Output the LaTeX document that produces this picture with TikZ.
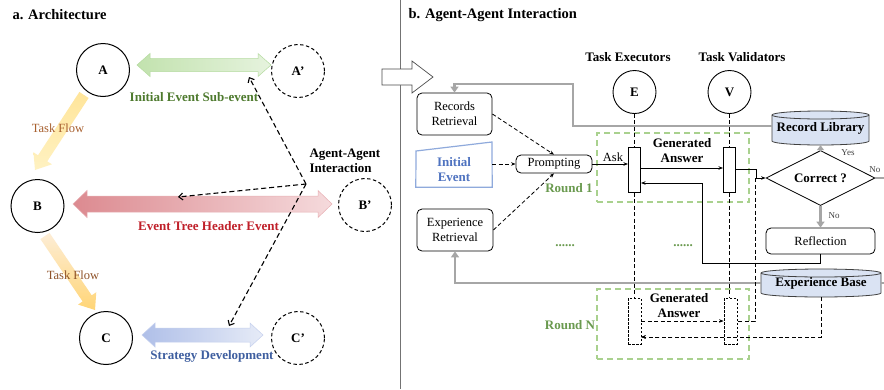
\documentclass[tikz,border=0pt]{standalone}
\usepackage{fontspec}
\setmainfont{Liberation Serif}
\usetikzlibrary{calc,arrows.meta,shapes.geometric}
\definecolor{gtxt}{HTML}{4E7A2E}
\definecolor{rtxt}{HTML}{C0202A}
\definecolor{btxt}{HTML}{3F5FA0}
\definecolor{tftxt}{HTML}{A8602F}
\definecolor{roundg}{HTML}{6A9A4F}
\definecolor{gboxc}{HTML}{A9D18E}
\definecolor{ietxt}{HTML}{4F73C0}
\definecolor{ieline}{HTML}{8FAADC}
\definecolor{cylc}{HTML}{DAE3F3}
\definecolor{glinec}{HTML}{A6A6A6}
\definecolor{gA}{HTML}{C2E2AE}
\definecolor{gB}{HTML}{E6F3DE}
\definecolor{gE}{HTML}{B5DBA0}
\definecolor{rA}{HTML}{DC8A90}
\definecolor{rB}{HTML}{F5DADC}
\definecolor{rE}{HTML}{E8B0B4}
\definecolor{bA}{HTML}{AFBFE8}
\definecolor{bB}{HTML}{E6EBF7}
\definecolor{bE}{HTML}{C5D0EE}
\definecolor{yA}{HTML}{FFE59A}
\definecolor{yB}{HTML}{FFF2C2}
\definecolor{yC}{HTML}{FDEDD6}
\definecolor{yD}{HTML}{FFD576}
\newcommand\myfb{\fontsize{13}{15}\selectfont\bfseries}
\newcommand\myfr{\fontsize{12.5}{15}\selectfont}
\newcommand\dblarr[6]{%
  \coordinate (da1) at ($(#1)!#5!(#2)$);
  \coordinate (da2) at ($(#2)!#5!(#1)$);
  \path[#6] (#1) -- ($(da1)!#4!90:(#2)$) -- ($(da1)!#3!90:(#2)$) -- ($(da2)!#3!90:(#2)$) -- ($(da2)!#4!90:(#2)$) -- (#2) -- ($(da2)!#4!-90:(#2)$) -- ($(da2)!#3!-90:(#2)$) -- ($(da1)!#3!-90:(#2)$) -- ($(da1)!#4!-90:(#2)$) -- cycle;
}
\newcommand\onearr[6]{%
  \coordinate (sa1) at ($(#2)!#5!(#1)$);
  \path[#6] ($(#1)!#3!90:(#2)$) -- ($(sa1)!#3!90:(#2)$) -- ($(sa1)!#4!90:(#2)$) -- (#2) -- ($(sa1)!#4!-90:(#2)$) -- ($(sa1)!#3!-90:(#2)$) -- ($(#1)!#3!-90:(#2)$) -- cycle;
}
\newcommand\cylshape[4]{% x y halfwidth halfheight(body)
  \path[fill=cylc,draw=black!75,line width=0.8pt] (#1-#3,#2-#4) -- (#1-#3,#2+#4) arc[start angle=180,end angle=0,x radius=#3,y radius=4] -- (#1+#3,#2-#4) arc[start angle=0,end angle=-180,x radius=#3,y radius=4] -- cycle;
  \draw[black!75,line width=0.8pt] (#1-#3,#2-#4) arc[start angle=180,end angle=0,x radius=#3,y radius=4];
}
\begin{document}
\begin{tikzpicture}[x=1pt,y=-1pt,
  agent/.style={circle,draw,line width=1pt,minimum size=53pt,inner sep=0pt,font=\myfb},
  dagent/.style={agent,dash pattern=on 3.5pt off 2.5pt},
  sagent/.style={circle,draw,line width=0.9pt,minimum size=43pt,inner sep=0pt,font=\myfb},
  box/.style={draw,rounded corners=5pt,line width=0.8pt,align=center,font=\myfr,inner sep=0pt},
  bar/.style={draw,line width=1pt,fill=white,minimum width=12pt,minimum height=45pt,inner sep=0pt},
  dbar/.style={draw,line width=0.8pt,dash pattern=on 2.5pt off 1.5pt,fill=white,minimum width=13pt,minimum height=46pt,inner sep=0pt},
  rbox/.style={draw=gboxc,line width=1.5pt,dash pattern=on 6pt off 4pt,inner sep=0pt},
  lbl/.style={font=\myfb,align=center},
  ldash/.style={line width=1.1pt,dash pattern=on 5pt off 3pt,-{Straight Barb[length=4pt,width=7pt]}},
  sar/.style={line width=0.8pt,-{Stealth[length=4.5pt,width=3.5pt]}},
  dar/.style={line width=0.8pt,dash pattern=on 4pt off 2.5pt,-{Stealth[length=4.5pt,width=3.5pt]}},
  dline/.style={line width=0.8pt,dash pattern=on 4pt off 2.5pt},
  gline/.style={draw=glinec,line width=2.5pt},
  gtip/.style={gline,-{Triangle[length=6pt,width=8pt]}},
  small/.style={font=\fontsize{9}{10}\selectfont,text=black!75}
]
\useasboundingbox (0,0) rectangle (884,389);
\fill[white] (0,0) rectangle (884,389);

% ---------- panel a ----------
\node[anchor=west,font=\fontsize{14.5}{16}\selectfont\bfseries] (ta) at (9,15) {a. Architecture};
\node[agent] (A) at (103,70) {A};
\node[dagent] (A2) at (298,71) {A’};
\node[agent] (B) at (37.5,206) {B};
\node[dagent] (B2) at (365,205) {B’};
\node[agent] (C) at (106,338) {C};
\node[dagent] (C2) at (298,338) {C’};

\coordinate (ga) at (137,65); \coordinate (gb) at (271,65);
\dblarr{ga}{gb}{6.5pt}{11.5pt}{13pt}{left color=gA,right color=gB,draw=gE,line width=0.5pt}
\coordinate (ra) at (73,204); \coordinate (rb) at (332,204);
\dblarr{ra}{rb}{8pt}{13.5pt}{14pt}{left color=rA,right color=rB,draw=rE,line width=0.5pt}
\coordinate (ba) at (142,335); \coordinate (bb) at (263,335);
\dblarr{ba}{bb}{7pt}{12pt}{13pt}{left color=bA,right color=bB,draw=bE,line width=0.5pt}

\coordinate (t1a) at (84,95); \coordinate (t1b) at (35,170);
\onearr{t1a}{t1b}{5.5pt}{11pt}{14pt}{top color=yA,bottom color=yB,draw=none}
\coordinate (t2a) at (45,236); \coordinate (t2b) at (95,310);
\onearr{t2a}{t2b}{5.5pt}{11pt}{14pt}{top color=yC,bottom color=yD,draw=none}

\node[font=\myfr,text=tftxt] (tf1) at (58,128) {Task Flow};
\node[font=\myfr,text=tftxt!85!black] (tf2) at (73,275) {Task Flow};
\node[lbl,text=gtxt] (l1) at (194,97) {Initial Event Sub-event};
\node[lbl,text=rtxt] (l2) at (208.5,226) {Event Tree Header Event};
\node[lbl,text=btxt] (l3) at (212,356) {Strategy Development};
\node[lbl,anchor=west,align=left] (aai) at (306,161) {Agent-Agent\\Interaction};

\coordinate (ai) at (306,184);
\coordinate (aA) at (249,77);
\coordinate (aB) at (178,197);
\coordinate (aC) at (229,326);
\draw[ldash] (ai) -- (aA);
\draw[ldash] (ai) -- (aB);
\draw[ldash] (ai) -- (aC);

\draw[black!55,line width=0.8pt] (400,0) -- (400,389);

% ---------- panel b ----------
\node[anchor=west,font=\fontsize{14.5}{16}\selectfont\bfseries] (tb) at (405,15) {b. Agent-Agent Interaction};
\path[fill=white,draw=black!70,line width=0.7pt] (382,69) -- (412,69) -- (412,61) -- (433,77) -- (412,93) -- (412,85) -- (382,85) -- cycle;

\node[rbox,minimum width=152pt,minimum height=69pt] (r1) at (673,167.5) {};
\node[rbox,minimum width=152pt,minimum height=70pt] (rN) at (673,324) {};

\node[box,minimum width=75pt,minimum height=42pt] (rr) at (454.5,114) {Records\\Retrieval};
\node[box,minimum width=76pt,minimum height=42pt] (er) at (455,230) {Experience\\Retrieval};
\node[box,minimum width=76pt,minimum height=18pt] (pr) at (554,164) {Prompting};
\node[minimum width=76pt,minimum height=36pt,inner sep=0pt] (ie) at (454,169) {};
\path[draw=ieline,line width=1.2pt,fill=white] (ie.south west) -- (416,151) -- (492,142) -- (ie.south east) -- cycle;
\node[lbl,text=ietxt] (iet) at (454,170) {Initial\\Event};

\node[sagent] (E) at (634.5,92) {E};
\node[sagent] (V) at (729.5,92) {V};
\node[lbl] (te) at (628,57) {Task Executors};
\node[lbl] (tv) at (742,57) {Task Validators};

% cylinders
\cylshape{820.5}{128}{48.5}{13}
\node[font=\myfb,minimum width=97pt,minimum height=34pt,inner sep=0pt] (rl) at (820.5,128) {Record Library};
\cylshape{821}{283}{60}{10}
\node[font=\myfb,minimum width=120pt,minimum height=28pt,inner sep=0pt] (eb) at (821,283) {Experience Base};

\node[diamond,draw,line width=0.8pt,aspect=2,minimum width=109pt,minimum height=55pt,inner sep=0pt,font=\myfb] (cor) at (820.5,178) {Correct ?};
\node[box,minimum width=109pt,minimum height=26pt] (ref) at (820.5,241) {Reflection};

% gray feedback lines
\coordinate (g2) at (573,84);
\draw[gtip] ([yshift=2pt]rl.west) -| (g2) -| (rr.north);
\draw[gtip] (eb.west) -| (er.south);
\draw[gline,-{Triangle[length=5pt,width=7pt]}] (cor.north) -- (rl.south);
\draw[gline,-{Triangle[length=6pt,width=8pt]}] (cor.south) -- (ref.north);
\coordinate (rt1) at (895,178);
\coordinate (rt2) at (895,283);
\draw[gline] (cor.east) -- (rt1);
\draw[gline] (eb.east) -- (rt2);
\node[small] (yes) at (848,153) {Yes};
\node[small,anchor=west] (no1) at (825,216) {No};
\node[small,anchor=east] (no2) at (884,170) {No};

% dashed inputs to prompting
\draw[dar] (rr.east) -- (pr.north);
\draw[dar] (ie.east |- pr.west) -- (pr.west);
\draw[dar] (er.east) -- (pr.south);

% bars
\node[bar] (e1) at (634.5,169.5) {};
\node[bar] (v1) at (729.5,169.5) {};
\coordinate (jn) at (755,178);
\coordinate (lp) at (702,263);
\draw[dline] (E.south) -- (e1.north);
\draw[dline] (V.south) -- (v1.north);
\draw[dline] (e1.south) -- (634.5,298);
\draw[dline] (v1.south) -- (729.5,298);
\draw[dar] (eb.south) |- (641,337);
\node[dbar] (eN) at (634.5,321) {};
\node[dbar] (vN) at (730.5,321) {};
\draw[dline] (jn) |- (vN.east);
\draw[dar] (eN.east) -- (vN.west);
\draw[dar] (vN.east |- 0,337) -- (eN.east |- 0,337);

\draw[sar] (pr.east) -- (pr.east -| e1.west);
\node[font=\myfr] (ask) at (613,157) {Ask};
\draw[sar] ([yshift=1.5pt]e1.east) -- ([yshift=1.5pt]v1.west);
\draw[sar] ([yshift=0.5pt]v1.east) -- ++(20,0) |- (cor.west);
\draw[sar] (ref.south) |- (lp) |- ([yshift=-13.5pt]e1.east);

\node[lbl] (ga1) at (682,150.5) {Generated\\Answer};
\node[lbl] (gaN) at (679,305.5) {Generated\\Answer};
\node[lbl,text=roundg] (rd1) at (569,188) {Round 1};
\node[lbl,text=roundg] (rdN) at (570,325) {Round N};
\node[lbl,text=roundg] (dt1) at (565,246) {......};
\node[lbl,text=roundg] (dt2) at (683,246) {......};
\end{tikzpicture}
\end{document}
